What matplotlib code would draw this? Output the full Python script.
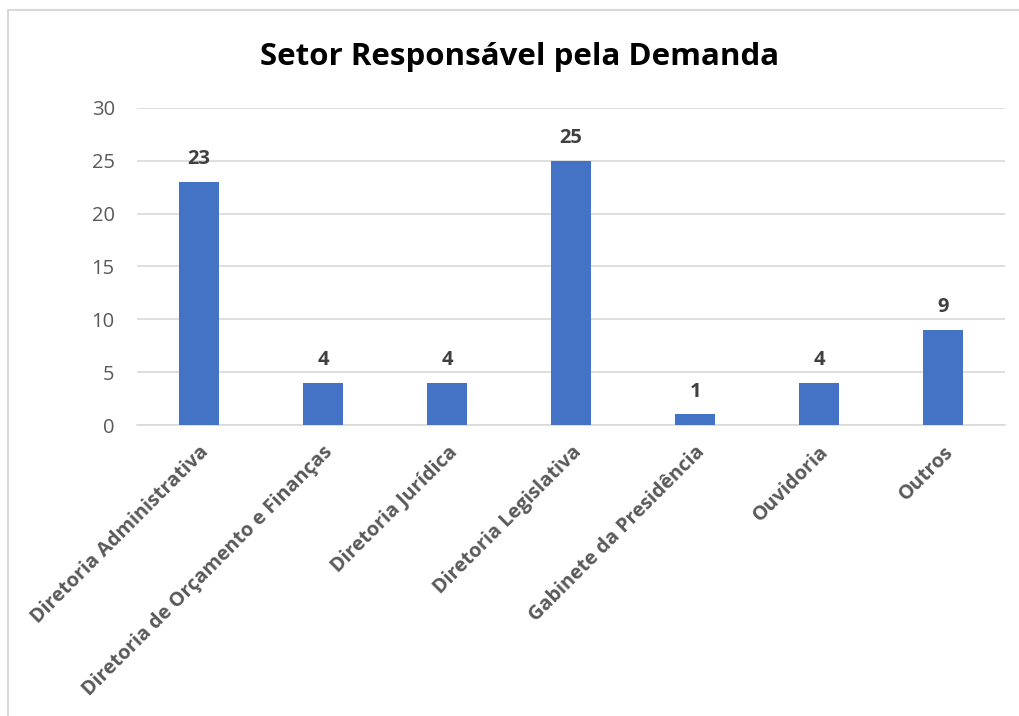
import matplotlib
matplotlib.use("Agg")
from matplotlib import pyplot as plt
from matplotlib.patches import Rectangle

plt.rcParams['font.family'] = ['Open Sans', 'DejaVu Sans']

setores = ["Diretoria Administrativa", "Diretoria de Orçamento e Finanças",
           "Diretoria Jurídica", "Diretoria Legislativa",
           "Gabinete da Presidência", "Ouvidoria", "Outros"]
demandas = [23, 4, 4, 25, 1, 4, 9]
y_ticks = [0, 5, 10, 15, 20, 25, 30]

fig = plt.figure(figsize=(10.19, 7.16), dpi=100)
ax = fig.add_axes([0.1344, 0.4064, 0.852, 0.4428])

# chart border (only left/top visible in the reference)
fig.patches.append(Rectangle((8 / 1019, -0.1), 1.2, 1 - 10 / 716 + 0.1,
                             transform=fig.transFigure, fill=False,
                             edgecolor="#d9d9d9", linewidth=1.5))

x = range(len(setores))
bars = ax.bar(x, demandas, width=0.32, color="#4472c4", zorder=3)

for b, v in zip(bars, demandas):
    ax.annotate(str(v), (b.get_x() + b.get_width() / 2, v),
                xytext=(0, 9), textcoords="offset points",
                ha="center", va="bottom", fontsize=14.5, fontweight="bold",
                color="#404040")

ax.set_xlim(-0.5, len(setores) - 0.5)
ax.set_ylim(0, 30)
ax.set_yticks(y_ticks)
ax.yaxis.grid(True, color="#d9d9d9", linewidth=1.2, zorder=0)
ax.set_axisbelow(True)
for s in ["top", "right", "left"]:
    ax.spines[s].set_visible(False)
ax.spines["bottom"].set_color("#d9d9d9")
ax.spines["bottom"].set_linewidth(1.2)
ax.tick_params(axis="y", length=0, labelsize=14.5, labelcolor="#595959", pad=16)
ax.tick_params(axis="x", length=0, labelsize=14.3, labelcolor="#595959", pad=12)
ax.set_xticks(list(x))
ax.set_xticklabels(setores, rotation=45, ha="right", rotation_mode="anchor",
                   fontweight="bold")

fig.text(0.51, 0.921, "Setor Responsável pela Demanda", ha="center",
         va="center", fontsize=22.5, fontweight="bold", color="black")

plt.savefig("out.png")
